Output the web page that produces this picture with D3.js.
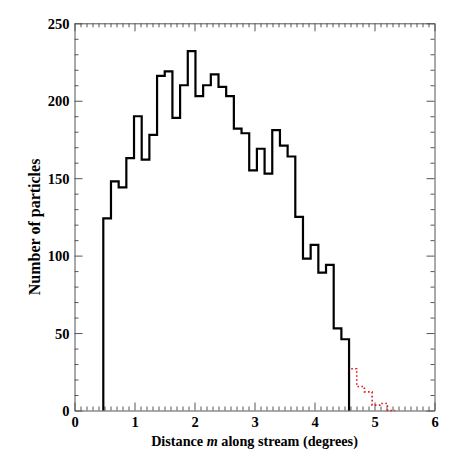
<!DOCTYPE html>
<html>
<head>
<meta charset="utf-8">
<script src="https://cdn.jsdelivr.net/npm/d3@7"></script>
<style>
  html, body { margin: 0; padding: 0; background: #fff; }
  svg text { font-family: "Liberation Serif", "Times New Roman", serif; font-weight: bold; }
</style>
</head>
<body>
<svg id="chart" width="458" height="458"></svg>
<script>
// ---- data ----
const binStart = 0.48;
const binWidth = 0.128;
const mainCounts = [124, 148, 144, 163, 190, 162, 178, 216, 219, 189,
                    210, 232, 203, 210, 217, 209, 203, 182, 179, 155,
                    169, 153, 181, 171, 164, 125, 98, 107, 89, 94,
                    53, 46];
const tailStart = 4.576;
const tailCounts = [27, 15.5, 12, 3.5, 4.5, 0];
const xTicks = [0, 1, 2, 3, 4, 5, 6];
const yTicks = [0, 50, 100, 150, 200, 250];
const xLabel = ["Distance ", "m", " along stream (degrees)"];
const yLabel = "Number of particles";

// ---- layout ----
const svg = d3.select("#chart");
const L = 74.5, R = 434.5, T = 23.3, B = 410.5;
const x = d3.scaleLinear().domain([0, 6]).range([L, R]);
const y = d3.scaleLinear().domain([0, 250]).range([B, T]);
const axisColor = "#555";

function histPoints(start, counts) {
  const pts = [[start, 0]];
  counts.forEach((c, i) => pts.push([start + i * binWidth, c]));
  const end = start + counts.length * binWidth;
  pts.push([end, counts[counts.length - 1]]);
  pts.push([end, 0]);
  return pts;
}
const line = d3.line().x(d => x(d[0])).y(d => y(d[1])).curve(d3.curveStepAfter);

// minor tick values
const xMinor = d3.range(0, 61).map(i => i / 10).filter(v => !xTicks.includes(v));
const yMinor = d3.range(0, 26).map(i => i * 10).filter(v => !yTicks.includes(v));

function drawAxis(gen, transform, values, size, labels) {
  const g = svg.append("g").attr("transform", transform)
    .call(gen.tickValues(values).tickSize(size).tickSizeOuter(0)
      .tickFormat(labels ? d3.format("d") : ""));
  g.select(".domain").attr("stroke", axisColor).attr("stroke-width", 1);
  g.selectAll(".tick line").attr("stroke", axisColor).attr("stroke-width", 1);
  g.selectAll(".tick text").attr("fill", "#000").style("font-size", "14.5px");
  return g;
}

// bottom
const gb = drawAxis(d3.axisBottom(x), `translate(0,${B})`, xTicks, -8, true);
gb.selectAll(".tick text").attr("y", 6.5).attr("dy", "0.71em");
drawAxis(d3.axisBottom(x), `translate(0,${B})`, xMinor, -4, false).select(".domain").remove();
// top
drawAxis(d3.axisTop(x), `translate(0,${T})`, xTicks, -8, false);
drawAxis(d3.axisTop(x), `translate(0,${T})`, xMinor, -4, false).select(".domain").remove();
// left
const gl = drawAxis(d3.axisLeft(y), `translate(${L},0)`, yTicks, -8, true);
gl.selectAll(".tick text").attr("x", -5).attr("dy", "0.36em");
drawAxis(d3.axisLeft(y), `translate(${L},0)`, yMinor, -4, false).select(".domain").remove();
// right
drawAxis(d3.axisRight(y), `translate(${R},0)`, yTicks, -8, false);
drawAxis(d3.axisRight(y), `translate(${R},0)`, yMinor, -4, false).select(".domain").remove();

// histograms
svg.append("path")
  .attr("d", line(histPoints(tailStart, tailCounts)))
  .attr("fill", "none").attr("stroke", "#e8141e").attr("stroke-width", 1.6)
  .attr("stroke-dasharray", "1.6,2.4");
svg.append("path")
  .attr("d", line(histPoints(binStart, mainCounts)))
  .attr("fill", "none").attr("stroke", "#000").attr("stroke-width", 2.2)
  .attr("stroke-linejoin", "miter");

// axis titles
const xt = svg.append("text").attr("x", (L + R) / 2).attr("y", 446)
  .attr("text-anchor", "middle").style("font-size", "14.2px").attr("fill", "#000");
xt.append("tspan").text(xLabel[0]);
xt.append("tspan").attr("font-style", "italic").text(xLabel[1]);
xt.append("tspan").text(xLabel[2]);

svg.append("text")
  .attr("transform", `translate(40,${(T + B) / 2 + 10}) rotate(-90)`)
  .attr("text-anchor", "middle").style("font-size", "16px").attr("fill", "#000")
  .text(yLabel);
</script>
</body>
</html>
